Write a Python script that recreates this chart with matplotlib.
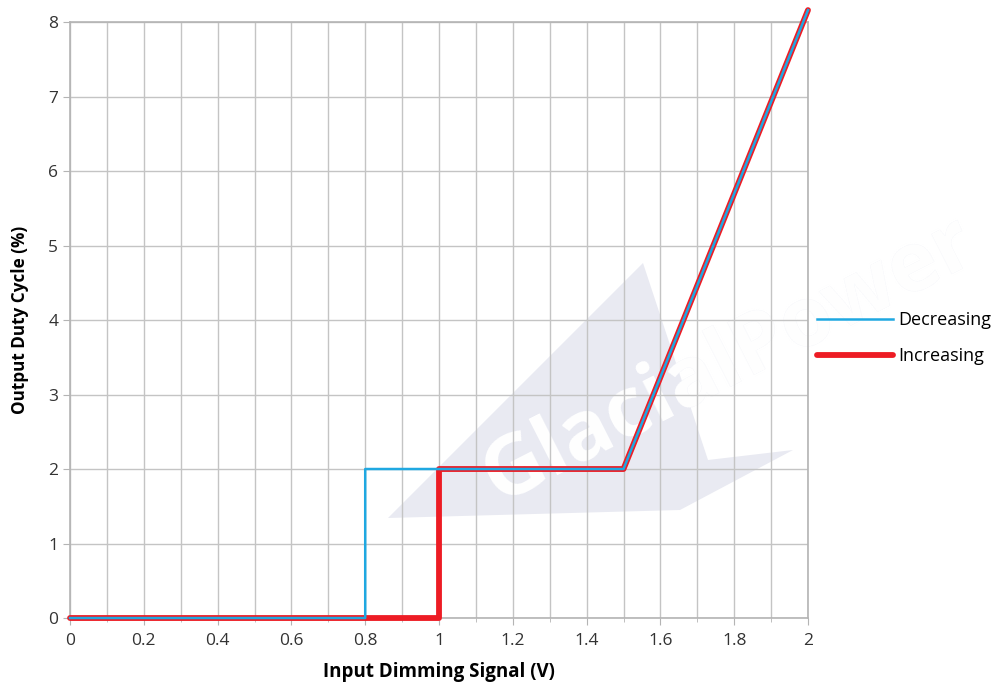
import matplotlib.pyplot as plt
from matplotlib.patches import Polygon
from matplotlib.ticker import MultipleLocator

# data
x_inc = [0, 1.0, 1.0, 1.5, 2.0]
y_inc = [0, 0, 2, 2, 8.16]
x_dec = [0, 0.8, 0.8, 1.5, 2.0]
y_dec = [0, 0, 2, 2, 8.16]

x_ticks = [0, 0.2, 0.4, 0.6, 0.8, 1, 1.2, 1.4, 1.6, 1.8, 2]
x_ticklabels = ['0', '0.2', '0.4', '0.6', '0.8', '1', '1.2', '1.4', '1.6', '1.8', '2']
y_ticks = [0, 1, 2, 3, 4, 5, 6, 7, 8]

plt.rcParams['font.family'] = ['Open Sans', 'DejaVu Sans']

fig = plt.figure(figsize=(9.99, 6.86), dpi=100)
ax = fig.add_axes([0.0701, 0.0991, 0.7387, 0.8688])
ax.set_zorder(1)
ax.set_facecolor('none')

# faint watermark behind the chart
tri = Polygon([(388/999, 1-518/686), (643/999, 1-263/686), (708/999, 1-460/686),
               (793/999, 1-450/686), (680/999, 1-510/686)],
              closed=True, transform=fig.transFigure, fc='#e9eaf2', ec='none', zorder=0)
fig.patches.append(tri)
fig.text(0.47, 0.27, 'GlacialPower', rotation=27, fontsize=60,
         fontweight='bold', color='#eceef5', zorder=0.2)
wt = fig.text(0.47, 0.27, 'GlacialPower', rotation=27, fontsize=60,
              fontweight='bold', color='white', zorder=0.3)
wt.set_clip_path(tri)

ax.plot(x_inc, y_inc, color='#ed1c24', lw=4.2, solid_capstyle='round',
        solid_joinstyle='round', clip_on=False, zorder=3, label='Increasing')
ax.plot(x_dec, y_dec, color='#1fa8e1', lw=1.8, clip_on=False, zorder=4,
        label='Decreasing')

ax.set_xlim(0, 2)
ax.set_ylim(0, 8)
ax.set_xticks(x_ticks)
ax.set_xticklabels(x_ticklabels)
ax.set_yticks(y_ticks)
ax.xaxis.set_minor_locator(MultipleLocator(0.1))
ax.grid(True, which='both', color='#c4c4c4', lw=1)
ax.set_axisbelow(True)
for s in ax.spines.values():
    s.set_color('#b4b4b4')
    s.set_linewidth(1.2)
ax.tick_params(axis='both', which='major', length=5, color='#b4b4b4',
               labelsize=12.5, labelcolor='#333333')
ax.tick_params(axis='x', which='minor', length=3, color='#b4b4b4')
ax.tick_params(axis='x', pad=6)

ax.set_xlabel('Input Dimming Signal (V)', fontsize=13.5, fontweight='bold', labelpad=9)
ax.set_ylabel('Output Duty Cycle (%)', fontsize=12.3, fontweight='bold', labelpad=14)

h, l = ax.get_legend_handles_labels()
leg = ax.legend(h[::-1], l[::-1], loc='center left', bbox_to_anchor=(1.0, 0.47),
                frameon=False, fontsize=13, handlelength=4.2, handletextpad=0.3,
                labelspacing=1.0, borderaxespad=0.1)

fig.savefig('out.png', dpi=100)
